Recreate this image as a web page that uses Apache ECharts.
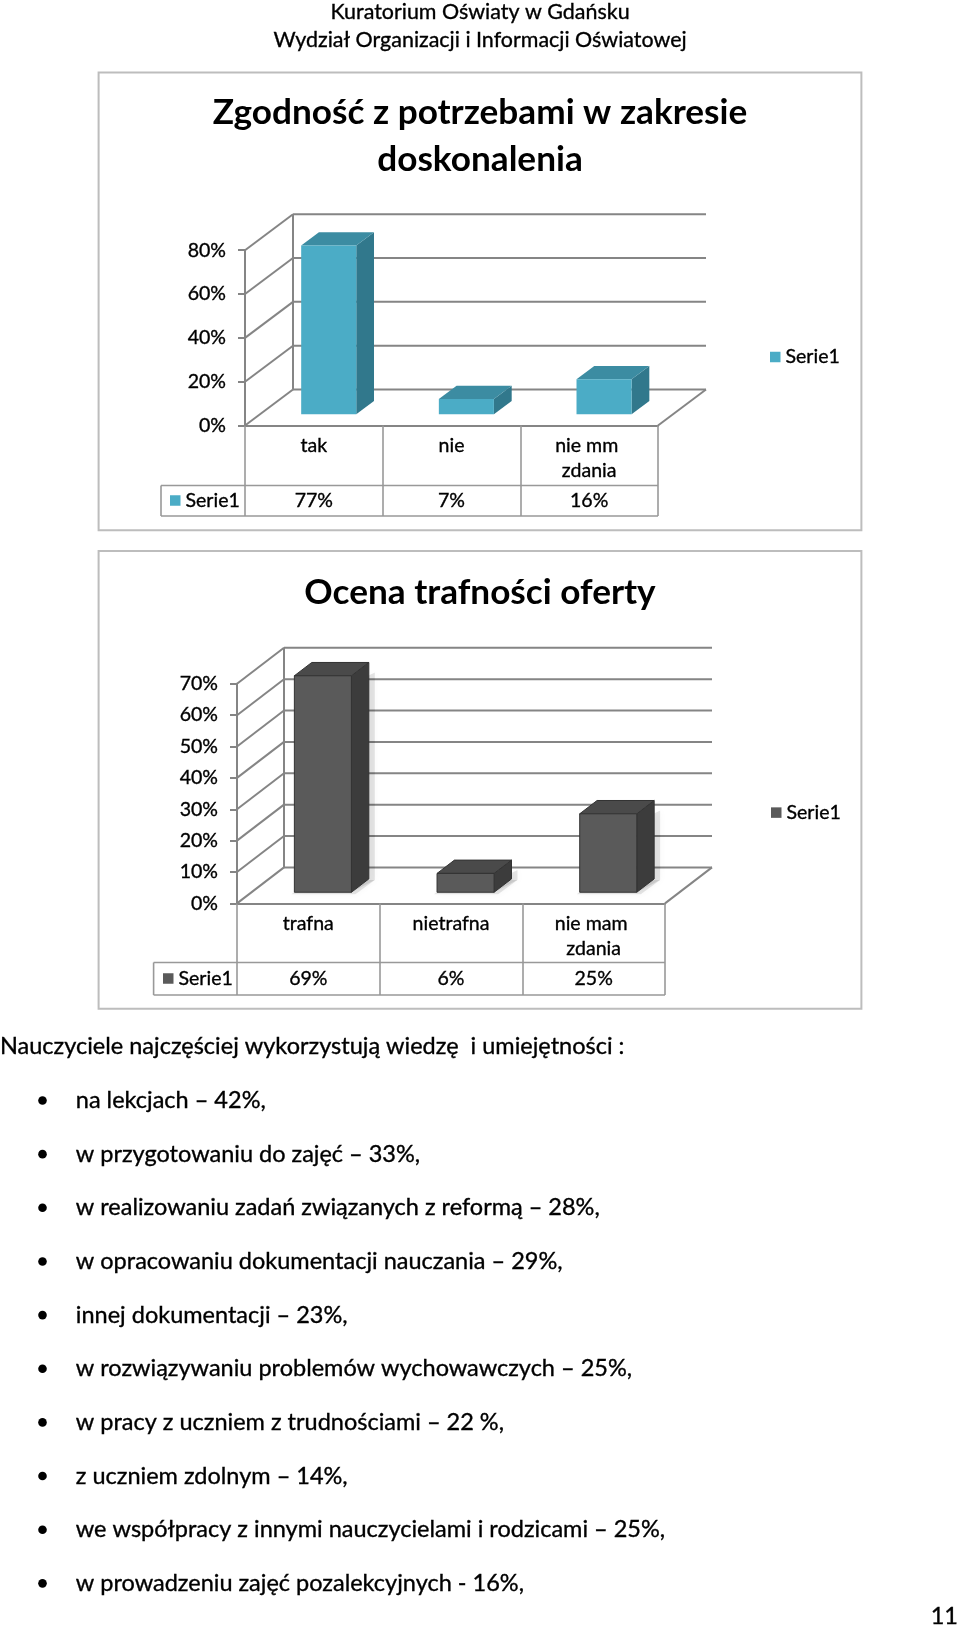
<!DOCTYPE html>
<html>
<head>
<meta charset="utf-8">
<script src="https://cdn.jsdelivr.net/npm/echarts@6/dist/echarts.min.js"></script>
<style>
html,body{margin:0;padding:0;background:#ffffff;}
#wrap{position:relative;width:960px;height:1627px;overflow:hidden;}
.layer{position:absolute;left:0;top:0;width:960px;height:1627px;}
</style>
</head>
<body>
<div id="wrap">
  <div id="page" class="layer"></div>
  <div id="c1" class="layer"></div>
  <div id="c2" class="layer"></div>
</div>
<script>
// ---------------- DATA ----------------
const headerLines = ['Kuratorium Oświaty w Gdańsku', 'Wydział Organizacji i Informacji Oświatowej'];
const seriesName = 'Serie1';

const chart1Title = 'Zgodność z potrzebami w zakresie\ndoskonalenia';
const chart1Categories = ['tak', 'nie', 'nie mm zdania'];
const chart1Values = [77, 7, 16];
const chart1Ticks = [0, 20, 40, 60, 80];

const chart2Title = 'Ocena trafności oferty';
const chart2Categories = ['trafna', 'nietrafna', 'nie mam zdania'];
const chart2Values = [69, 6, 25];
const chart2Ticks = [0, 10, 20, 30, 40, 50, 60, 70];

const introText = 'Nauczyciele najczęściej wykorzystują wiedzę  i umiejętności :';
const bulletItems = [
  'na lekcjach – 42%,',
  'w przygotowaniu do zajęć – 33%,',
  'w realizowaniu zadań związanych z reformą – 28%,',
  'w opracowaniu dokumentacji nauczania – 29%,',
  'innej dokumentacji – 23%,',
  'w rozwiązywaniu problemów wychowawczych – 25%,',
  'w pracy z uczniem z trudnościami – 22 %,',
  'z uczniem zdolnym – 14%,',
  'we współpracy z innymi nauczycielami i rodzicami – 25%,',
  'w prowadzeniu zajęć pozalekcyjnych - 16%,'
];
const pageNumber = '11';

// ---------------- STYLE / LAYOUT ----------------
const FONT = 'Lato';
const GRID_COLOR = '#858585';
const TABLE_COLOR = '#999999';
const TEXT_COLOR = '#000000';

function fitFont(samples, weight) {
  const ctx = document.createElement('canvas').getContext('2d');
  let sum = 0;
  samples.forEach(function (s) {
    ctx.font = weight + ' 100px ' + FONT;
    sum += s[1] / ctx.measureText(s[0]).width * 100;
  });
  return sum / samples.length;
}
const headerSize = fitFont([[headerLines[0], 299], [headerLines[1], 414]], 'normal');
const titleSize = fitFont([['Zgodność z potrzebami w zakresie', 534], [chart2Title, 352]], 'bold');
const bodySize = fitFont([[introText, 624], [bulletItems[2], 525]], 'normal');
const labelSize = fitFont([['Serie1', 54], ['nietrafna', 77.5]], 'normal');
const TEXT_STROKE = 0.35;

const layout1 = {
  box: [98.6, 72.6, 762.8, 457.7], titleTop: 89.5,
  x0: 245, x1: 658, yTop: 250.2, y0: 425.5, dx: 48, dy: 36,
  tableLeft: 161, row1: 485.5, row2: 516, valueY: 500.5,
  legendX: 770, legendY: 357, cellLegendX: 170, cellLegendY: 500.5
};
const layout2 = {
  box: [98.6, 551, 762.8, 457.7], titleTop: 569.5,
  x0: 237, x1: 665, yTop: 683.8, y0: 903.4, dx: 47, dy: 36,
  tableLeft: 153.6, row1: 962.5, row2: 995, valueY: 978.5,
  legendX: 771, legendY: 812.6, cellLegendX: 163, cellLegendY: 978.5
};
const colors1 = {front: '#4bacc6', side: '#31788c', top: '#3c8ca2', stroke: null, lw: 0, shadow: false};
const colors2 = {front: '#5a5a5a', side: '#3c3c3c', top: '#4a4a4a', stroke: '#333333', lw: 1, shadow: true};

// ---------------- PAGE (texts, boxes) ----------------
const page = echarts.init(document.getElementById('page'), null, {width: 960, height: 1627});
const pageGraphics = [];
function txt(x, y, t, size, align) {
  return {type: 'text', x: x, y: y,
    style: {text: t, fontFamily: FONT, fontSize: size, fill: TEXT_COLOR, align: align, verticalAlign: 'middle',
      stroke: TEXT_COLOR, lineWidth: TEXT_STROKE}};
}
headerLines.forEach(function (t, i) {
  pageGraphics.push(txt(480, [12.5, 40.5][i], t, headerSize, 'center'));
});
[layout1.box, layout2.box].forEach(function (b) {
  pageGraphics.push({type: 'rect', shape: {x: b[0], y: b[1], width: b[2], height: b[3]},
    style: {fill: 'none', stroke: '#bdbdbd', lineWidth: 2}});
});
pageGraphics.push(txt(0, 1046.5, introText, bodySize, 'left'));
bulletItems.forEach(function (t, i) {
  const y = 1100.5 + i * 53.65;
  pageGraphics.push({type: 'circle', shape: {cx: 42.5, cy: y, r: 4.3}, style: {fill: TEXT_COLOR}});
  pageGraphics.push(txt(75.8, y, t, bodySize, 'left'));
});
pageGraphics.push(txt(958, 1616, pageNumber, bodySize, 'right'));
page.setOption({backgroundColor: '#ffffff', animation: false, graphic: pageGraphics});

// ---------------- 3D BAR CHARTS ----------------
function buildChart(el, title, categories, values, ticks, L, col) {
  const chart = echarts.init(el, null, {width: 960, height: 1627});
  const maxV = ticks[ticks.length - 1];
  const step = ticks[1] - ticks[0];
  const labelStyle = {fontFamily: FONT, fontSize: labelSize, color: TEXT_COLOR,
    textBorderColor: TEXT_COLOR, textBorderWidth: TEXT_STROKE};
  const gridLine = {stroke: GRID_COLOR, lineWidth: 2};
  const tableLine = {stroke: TABLE_COLOR, lineWidth: 1.6};

  function frameItem(params, api) {
    const cs = params.coordSys;
    const v = api.value(1);
    const p = api.coord([0, v]);
    const xl = cs.x, xr = cs.x + cs.width, y = p[1];
    const ch = [];
    ch.push({type: 'line', shape: {x1: xl, y1: y, x2: xl + L.dx, y2: y - L.dy}, style: gridLine});
    ch.push({type: 'line', shape: {x1: xl + L.dx, y1: y - L.dy, x2: xr + L.dx, y2: y - L.dy}, style: gridLine});
    if (params.dataIndex === 0) {
      const topY = api.coord([0, maxV])[1];
      ch.push({type: 'line', shape: {x1: xl + L.dx, y1: y - L.dy, x2: xl + L.dx, y2: topY - L.dy}, style: gridLine});
      ch.push({type: 'line', shape: {x1: xr, y1: y, x2: xr + L.dx, y2: y - L.dy}, style: gridLine});
      ch.push({type: 'line', shape: {x1: L.tableLeft, y1: L.row1, x2: xr, y2: L.row1}, style: tableLine});
      ch.push({type: 'line', shape: {x1: L.tableLeft, y1: L.row2, x2: xr, y2: L.row2}, style: tableLine});
      ch.push({type: 'line', shape: {x1: L.tableLeft, y1: L.row1, x2: L.tableLeft, y2: L.row2}, style: tableLine});
    }
    return {type: 'group', children: ch};
  }

  function barItem(params, api) {
    const i = api.value(0), v = api.value(1);
    const t = api.coord([i, v]), b = api.coord([i, 0]);
    const band = api.size([1, 0])[0];
    const w = band * 0.4;
    const fx = L.dx * 0.31, fy = L.dy * 0.31, bx = L.dx * 0.37, by = L.dy * 0.37;
    const lft = t[0] - w / 2 + fx, rgt = lft + w, yt = t[1] - fy, yb = b[1] - fy;
    const st = function (fill) {
      const s = {fill: fill};
      if (col.stroke) { s.stroke = col.stroke; s.lineWidth = col.lw; }
      return s;
    };
    const ch = [];
    if (col.shadow) {
      ch.push({type: 'polygon', shape: {points: [[rgt, yb], [rgt + bx + 6, yb - by + 1], [rgt + bx + 6, yt - by + 10], [rgt, yt + 8]]},
        style: {fill: 'rgba(0,0,0,0.10)', shadowBlur: 9, shadowColor: 'rgba(0,0,0,0.35)'}});
      ch.push({type: 'polygon', shape: {points: [[lft - 3, yb + 2], [rgt + 4, yb + 2], [rgt + bx + 6, yb - by + 1], [lft + bx, yb - by]]},
        style: {fill: 'rgba(0,0,0,0.10)', shadowBlur: 7, shadowColor: 'rgba(0,0,0,0.35)'}});
    }
    ch.push({type: 'polygon', shape: {points: [[rgt, yt], [rgt + bx, yt - by], [rgt + bx, yb - by], [rgt, yb]]}, style: st(col.side)});
    ch.push({type: 'polygon', shape: {points: [[lft, yt], [lft + bx, yt - by], [rgt + bx, yt - by], [rgt, yt]]}, style: st(col.top)});
    ch.push({type: 'rect', shape: {x: lft, y: yt, width: w, height: yb - yt}, style: st(col.front)});
    return {type: 'group', children: ch};
  }

  function valueItem(params, api) {
    const i = api.value(0), v = api.value(1);
    const b = api.coord([i, 0]);
    return {type: 'text', x: b[0], y: L.valueY,
      style: {text: v + '%', fontFamily: FONT, fontSize: labelSize, fill: TEXT_COLOR, align: 'center', verticalAlign: 'middle',
        stroke: TEXT_COLOR, lineWidth: TEXT_STROKE}};
  }

  const legendBase = {
    data: [{name: seriesName, itemStyle: {color: col.front}}],
    icon: 'rect', itemWidth: 10.5, itemHeight: 10.5, padding: 0, selectedMode: false,
    textStyle: {fontFamily: FONT, fontSize: labelSize, color: TEXT_COLOR, lineHeight: 24,
      textBorderColor: TEXT_COLOR, textBorderWidth: TEXT_STROKE}
  };

  chart.setOption({
    backgroundColor: 'transparent',
    animation: false,
    title: {text: title, left: 'center', top: L.titleTop, padding: 0,
      textStyle: {fontFamily: FONT, fontWeight: 'bold', fontSize: titleSize, lineHeight: 47, color: TEXT_COLOR}},
    legend: [
      Object.assign({}, legendBase, {left: L.legendX, top: L.legendY - 12}),
      Object.assign({}, legendBase, {left: L.cellLegendX, top: L.cellLegendY - 12})
    ],
    grid: {left: L.x0, top: L.yTop, width: L.x1 - L.x0, height: L.y0 - L.yTop},
    xAxis: {
      type: 'category', data: categories, boundaryGap: true,
      axisLine: {show: true, lineStyle: {color: GRID_COLOR, width: 1.8}},
      axisTick: {show: true, interval: 0, length: L.row2 - L.y0, lineStyle: {color: TABLE_COLOR, width: 1.6}},
      axisLabel: Object.assign({interval: 0, margin: 7.5, width: 112, overflow: 'break', lineHeight: 25}, labelStyle),
      splitLine: {show: false}
    },
    yAxis: {
      type: 'value', min: 0, max: maxV, interval: step,
      axisLine: {show: true, lineStyle: {color: GRID_COLOR, width: 2}},
      axisTick: {show: true, length: 7, lineStyle: {color: GRID_COLOR, width: 2}},
      axisLabel: Object.assign({formatter: '{value}%', margin: 19}, labelStyle),
      splitLine: {show: false}
    },
    series: [
      {type: 'custom', name: 'frame', z: 1, silent: true, renderItem: frameItem,
        data: ticks.map(function (v) { return [0, v]; }), encode: {x: 0, y: 1}},
      {type: 'custom', name: seriesName, z: 3, renderItem: barItem, itemStyle: {color: col.front},
        data: values.map(function (v, i) { return [i, v]; }), encode: {x: 0, y: 1}},
      {type: 'custom', name: 'values', z: 3, silent: true, renderItem: valueItem,
        data: values.map(function (v, i) { return [i, v]; }), encode: {x: 0, y: 1}}
    ]
  });
  return chart;
}

buildChart(document.getElementById('c1'), chart1Title, chart1Categories, chart1Values, chart1Ticks, layout1, colors1);
buildChart(document.getElementById('c2'), chart2Title, chart2Categories, chart2Values, chart2Ticks, layout2, colors2);
</script>
</body>
</html>
